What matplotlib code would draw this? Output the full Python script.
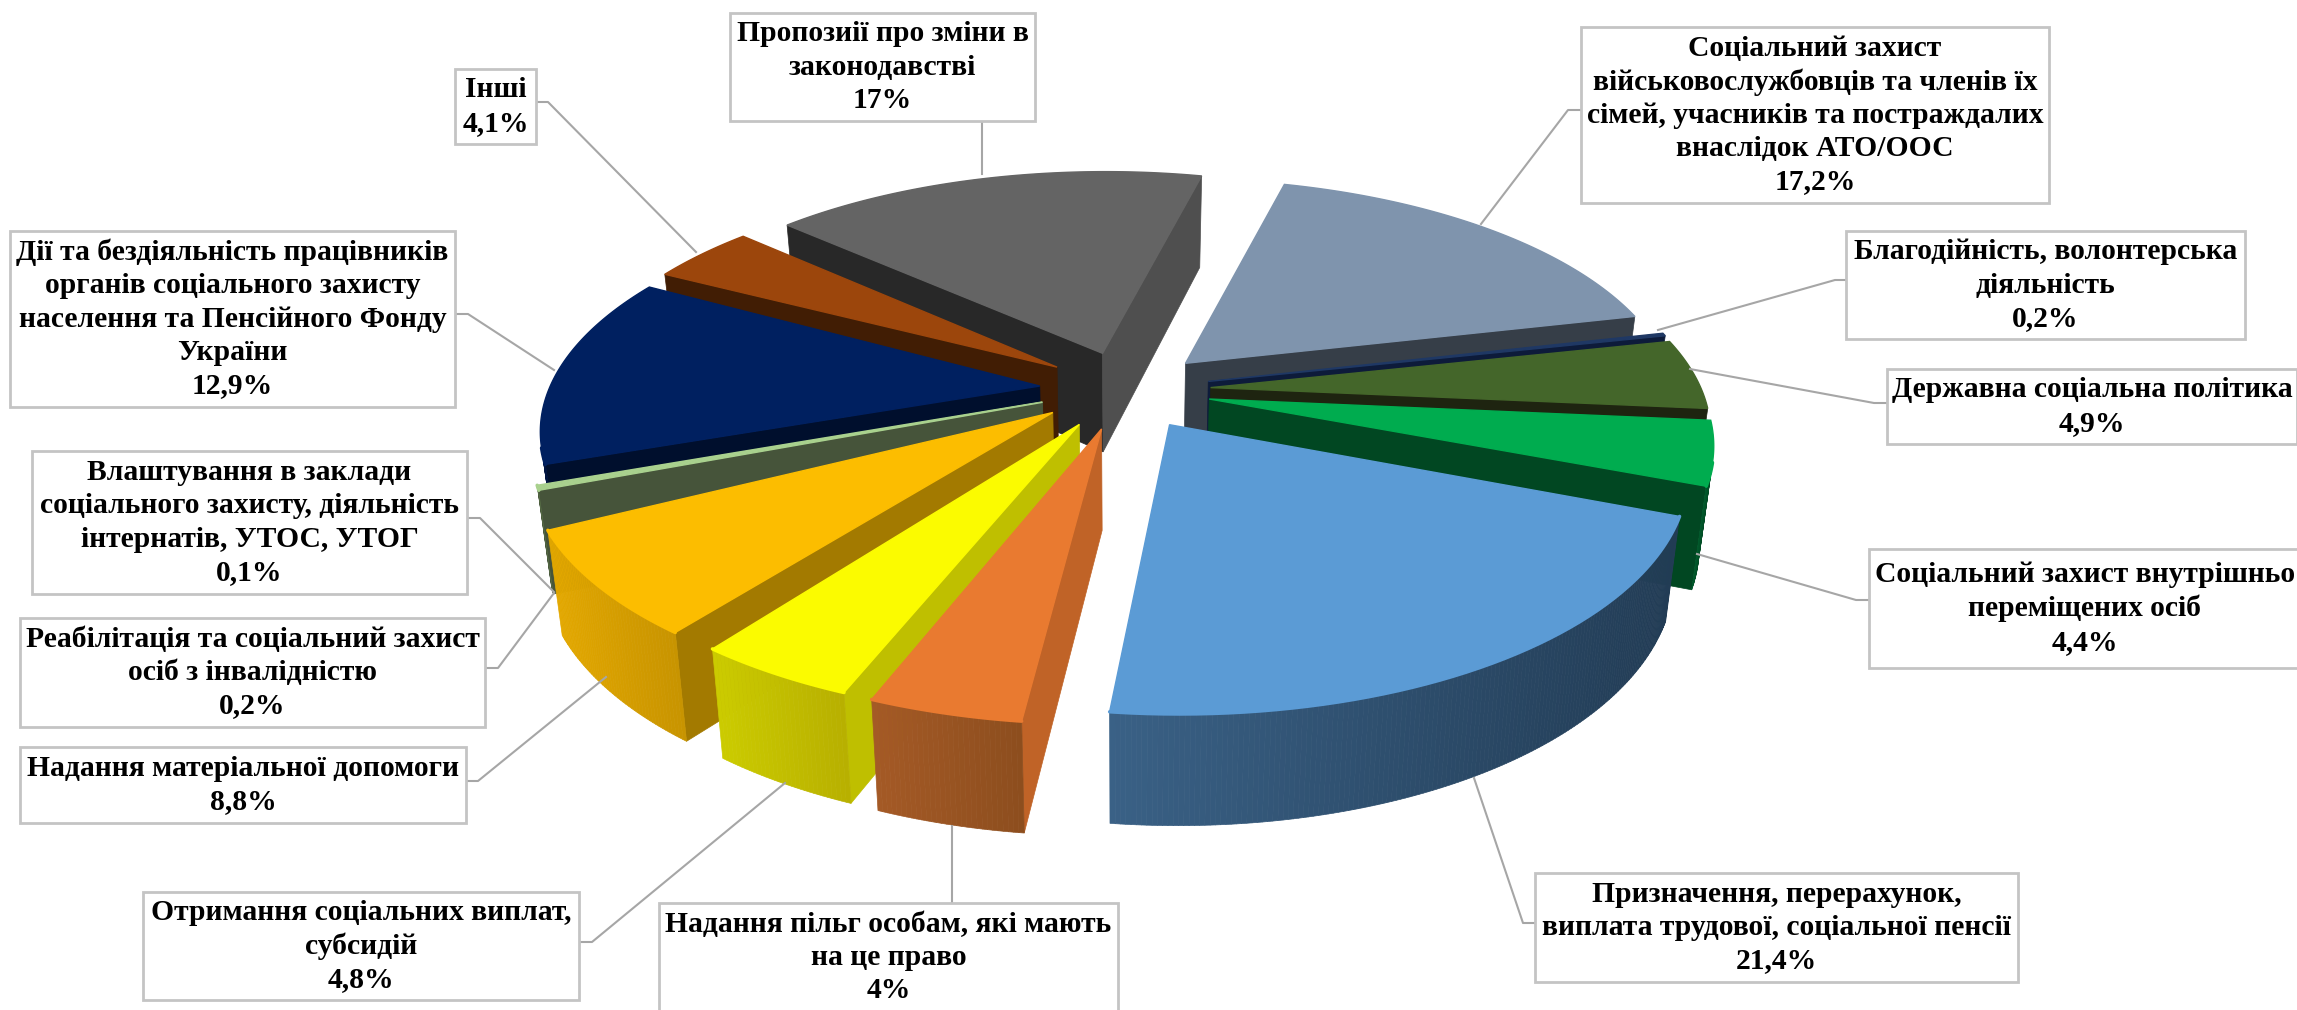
import matplotlib
matplotlib.use("Agg")
import matplotlib.pyplot as plt
from matplotlib.patches import Polygon, Rectangle
from matplotlib.collections import PolyCollection
from matplotlib.colors import to_rgb
import numpy as np

categories = [
    "Соціальний захист\nвійськовослужбовців та членів їх\nсімей, учасників та постраждалих\nвнаслідок АТО/ООС",
    "Благодійність, волонтерська\nдіяльність",
    "Державна соціальна політика",
    "Соціальний захист внутрішньо\nпереміщених осіб",
    "Призначення, перерахунок,\nвиплата трудової, соціальної пенсії",
    "Надання пільг особам, які мають\nна це право",
    "Отримання соціальних виплат,\nсубсидій",
    "Надання матеріальної допомоги",
    "Реабілітація та соціальний захист\nосіб з інвалідністю",
    "Влаштування в заклади\nсоціального захисту, діяльність\nінтернатів, УТОС, УТОГ",
    "Дії та бездіяльність працівників\nорганів соціального захисту\nнаселення та Пенсійного Фонду\nУкраїни",
    "Інші",
    "Пропозиії про зміни в\nзаконодавстві",
]
values = [17.2, 0.2, 4.9, 4.4, 21.4, 4, 4.8, 8.8, 0.2, 0.1, 12.9, 4.1, 17]

top_colors = ["#7f94ad", "#1f3864", "#44662a", "#00ac4f", "#5b9bd5", "#e97a30", "#fbfb00",
              "#fcbd00", "#a9d18e", "#a9d18e", "#002060", "#9c460c", "#646464"]
wall_colors = ["#363e48", "#0d1b3a", "#1e2410", "#014722", "#22394f", "#c06327", "#bfbf00",
               "#a37a00", "#46543a", "#46543a", "#000f2d", "#411d04", "#282828"]
wall_end_colors = ["#363e48", "#0d1b3a", "#1e2410", "#014722", "#22394f", "#c06327", "#bfbf00",
                   "#a37a00", "#46543a", "#46543a", "#000f2d", "#411d04", "#4f4f4f"]
rim_left = ["#4f5c6c", "#0d1b3a", "#2a3f1a", "#015a2c", "#3a6186", "#a55a26", "#cccc00",
            "#e3a800", "#5f7a4c", "#46543a", "#001440", "#5a2a08", "#4f4f4f"]
rim_right = ["#363e48", "#0d1b3a", "#1e2410", "#014722", "#223c55", "#8d4e1e", "#b8b000",
             "#c89400", "#46543a", "#46543a", "#000f2d", "#411d04", "#4f4f4f"]

# the picture is not quite proportional, degrees read off the slices
start_shift = [0, 0, 0, 0, 0, -1.3, -1, -2.2, -2.5, -2.5, -2, -1.5, -1.5]
end_shift = [0, 0, 0, 0, -1.7, -1.2, -3, -8.5, -2.5, -2.5, -0.3, -1.5, -1.5]
radius = [1, 1, 1, 1, 1.01, 1.02, 1.02, 1.03, 1.01, 1.01, 1, 1, 1]

# x0, y0, x1, y1 of box, then leader line
boxes = [
    (1581, 27, 2049, 203, [(1581, 110), (1568, 110), (1481, 224)]),
    (1846, 231, 2245, 339, [(1846, 280), (1835, 280), (1658, 330)]),
    (1887, 369, 2297, 444, [(1887, 403), (1874, 403), (1690, 369)]),
    (1869, 549, 2301, 668, [(1869, 600), (1856, 600), (1697, 554)]),
    (1535, 873, 2018, 982, [(1535, 923), (1523, 923), (1474, 778)]),
    (659, 903, 1118, 1012, [(952, 903), (952, 826)]),
    (143, 892, 579, 1000, [(579, 942), (592, 942), (785, 783)]),
    (20, 747, 466, 823, [(466, 781), (478, 781), (606, 677)]),
    (20, 618, 485, 727, [(485, 668), (498, 668), (554, 593)]),
    (32, 451, 467, 594, [(467, 518), (480, 518), (554, 592)]),
    (10, 231, 455, 407, [(455, 314), (468, 314), (554, 370)]),
    (455, 69, 536, 144, [(536, 102), (548, 102), (696, 252)]),
    (730, 13, 1035, 121, [(982, 121), (982, 174)]),
]

cx, cy = 1125, 390
A, B, D = 491, 224, 100
persp_x = 0.17
persp_y = 0.17
shrink = 0.025
explode = 0.175
start = 15

plt.rcParams['font.family'] = ['Liberation Serif', 'DejaVu Serif']

fig = plt.figure(figsize=(22.97, 10.10), dpi=100)
ax = fig.add_axes([0, 0, 1, 1])
ax.set_xlim(0, 2297)
ax.set_ylim(1010, 0)
ax.axis("off")


def project(X, Y, Z=0.0):
    sx = 1 / (1 + persp_x * Y)
    sy = 1 / (1 + persp_y * Y)
    x = A * X * sx
    return cx + x * (1 - shrink * Z), cy - B * Y * sy + D * Z * sy ** 0.5


def point(ang, r, ox, oy, Z=0.0):
    a = np.radians(ang)
    return project(ox + r * np.sin(a), oy + r * np.cos(a), Z)


def area(q):
    q = np.array(q)
    return 0.5 * np.sum(q[:, 0] * np.roll(q[:, 1], -1) - np.roll(q[:, 0], -1) * q[:, 1])


edges = start + np.cumsum([0] + values) / sum(values) * 360

slices = []
for i in range(len(values)):
    a0, a1 = edges[i] + start_shift[i], edges[i + 1] + end_shift[i]
    mid = np.radians((edges[i] + edges[i + 1]) / 2)
    ox, oy = explode * np.sin(mid), explode * np.cos(mid)
    slices.append((oy + 0.5 * np.cos(mid), i, a0, a1, ox, oy))

# back slices first
slices.sort(key=lambda t: -t[0])
for order, (depth, i, a0, a1, ox, oy) in enumerate(slices):
    z = 2 + order * 0.01
    r = radius[i]
    apex_t = project(ox, oy)
    apex_b = project(ox, oy, 1)
    angs = np.linspace(a0, a1, max(3, int((a1 - a0) * 2) + 1))

    # flat sides
    for ang, col in ((a0, wall_colors[i]), (a1, wall_end_colors[i])):
        q = [apex_t, point(ang, r, ox, oy), point(ang, r, ox, oy, 1), apex_b]
        facing = area(q) > 0 if ang == a1 else area(q) < 0
        if facing:
            ax.add_patch(Polygon(q, closed=True, fc=col, ec=col, lw=0.5, zorder=z))

    # outer rim, lighter on the left
    polys, cols = [], []
    c_l, c_r = np.array(to_rgb(rim_left[i])), np.array(to_rgb(rim_right[i]))
    xs = [point(a, r, ox, oy)[0] for a in angs]
    arc = []
    for k in range(len(angs) - 1):
        q = [point(angs[k], r, ox, oy), point(angs[k + 1], r, ox, oy),
             point(angs[k + 1], r, ox, oy, 1), point(angs[k], r, ox, oy, 1)]
        if area(q) > 0:
            continue
        polys.append(q)
        arc.extend(q[:2])
        f = (xs[k] - min(xs)) / (max(xs) - min(xs) + 1e-9)
        cols.append(c_l + (c_r - c_l) * f)
    if polys:
        ax.add_collection(PolyCollection(polys, facecolors=cols, edgecolors=cols, linewidths=0.5, zorder=z + 0.001))

    top = [apex_t] + [point(a, r, ox, oy) for a in angs]
    ax.add_patch(Polygon(top, closed=True, fc=top_colors[i], ec=top_colors[i], lw=1, zorder=z + 0.002))
    if arc:
        ax.plot([p[0] for p in arc], [p[1] for p in arc], color=top_colors[i], lw=2.5,
                solid_capstyle="round", zorder=z + 0.003)

for i in range(len(categories)):
    x0, y0, x1, y1, leader = boxes[i]
    ax.plot([p[0] for p in leader], [p[1] for p in leader], color="#a6a6a6", lw=1.5, zorder=5)
    ax.add_patch(Rectangle((x0, y0), x1 - x0, y1 - y0, fc="white", ec="#c4c4c4", lw=2, zorder=6))
    label = categories[i] + "\n" + f"{values[i]:g}".replace(".", ",") + "%"
    ax.text((x0 + x1) / 2, (y0 + y1) / 2, label, ha="center", va="center", fontsize=21.3,
            fontweight="bold", color="black", linespacing=1.3, zorder=7)

fig.savefig("out.png", dpi=100)
